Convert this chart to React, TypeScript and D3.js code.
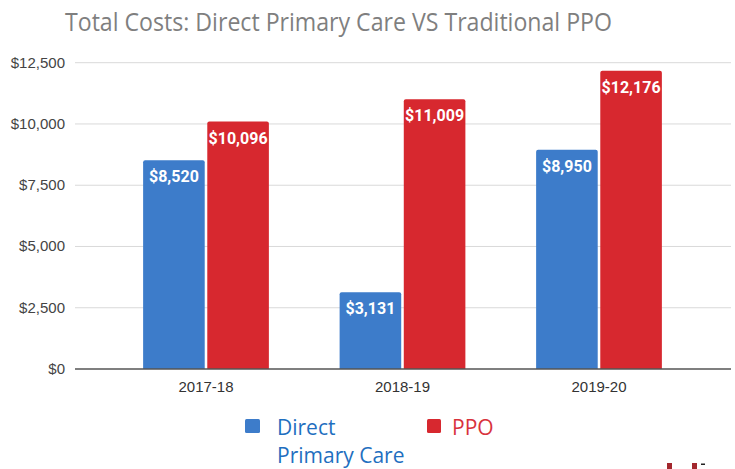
import React from "react";
import * as d3 from "d3";

const categories = ["2017-18", "2018-19", "2019-20"];
const seriesNames = ["Direct Primary Care", "PPO"];
const dpcValues = [8520, 3131, 8950];
const ppoValues = [10096, 11009, 12176];
const yTicks = [0, 2500, 5000, 7500, 10000, 12500];
const titleText = "Total Costs: Direct Primary Care VS Traditional PPO";

const W = 735;
const H = 469;
const BLUE = "#3D7CCA";
const RED = "#D7282F";

function topRoundedRect(x: number, y: number, w: number, h: number, r: number) {
  const rr = Math.min(r, h, w / 2);
  return `M${x},${y + h}V${y + rr}Q${x},${y} ${x + rr},${y}H${x + w - rr}Q${x + w},${y} ${x + w},${y + rr}V${y + h}Z`;
}

export default function App() {
  const y = d3.scaleLinear().domain([0, 12500]).range([369, 62.7]);
  const x0 = d3
    .scaleBand<string>()
    .domain(categories)
    .range([107.75, 697.25])
    .paddingInner(0.36)
    .paddingOuter(0.18);
  const x1 = d3
    .scaleBand<string>()
    .domain(seriesNames)
    .range([0, x0.bandwidth()])
    .paddingInner(0.04);
  const fmt = (v: number) => "$" + d3.format(",")(v);
  const series = [
    { name: seriesNames[0], values: dpcValues, color: BLUE },
    { name: seriesNames[1], values: ppoValues, color: RED },
  ];

  return (
    <svg
      width={W}
      height={H}
      style={{ position: "absolute", left: 0, top: 0, display: "block", background: "#fff" }}
    >
      <rect x={0} y={0} width={W} height={H} fill="#fff" />
      <text
        x={65}
        y={31}
        fontFamily="'Open Sans', sans-serif"
        fontSize={25}
        fill="#7F7F7F"
        textLength={547}
        lengthAdjust="spacingAndGlyphs"
      >
        {titleText}
      </text>

      {yTicks.map((t) => (
        <g key={t}>
          {t !== 0 && (
            <line x1={75} x2={731} y1={y(t)} y2={y(t)} stroke="#D9D9D9" strokeWidth={1} />
          )}
          <text
            x={65}
            y={y(t) + 5}
            textAnchor="end"
            fontFamily="'Liberation Sans', Arial, sans-serif"
            fontSize={15}
            fill="#444"
          >
            {fmt(t)}
          </text>
        </g>
      ))}

      {categories.map((c, i) => (
        <g key={c}>
          {series.map((s) => {
            const v = s.values[i];
            const bx = (x0(c) ?? 0) + (x1(s.name) ?? 0);
            const by = y(v);
            const bw = x1.bandwidth();
            return (
              <g key={s.name}>
                <path d={topRoundedRect(bx, by, bw, y(0) - by, 2)} fill={s.color} />
                <text
                  x={bx + bw / 2}
                  y={by + 22}
                  textAnchor="middle"
                  fontFamily="Roboto, sans-serif"
                  fontWeight="bold"
                  fontSize={16}
                  fill="#fff"
                >
                  {fmt(v)}
                </text>
              </g>
            );
          })}
          <text
            x={(x0(c) ?? 0) + x0.bandwidth() / 2}
            y={392}
            textAnchor="middle"
            fontFamily="'Liberation Sans', Arial, sans-serif"
            fontSize={15}
            fill="#333"
          >
            {c}
          </text>
        </g>
      ))}

      <line x1={75} x2={731} y1={y(0)} y2={y(0)} stroke="#555" strokeWidth={1.5} />

      {/* legend */}
      <rect x={245} y={419} width={15} height={14} rx={1.5} fill={BLUE} />
      <text fontFamily="'Open Sans', sans-serif" fontSize={21} fill="#1F6FC0">
        <tspan x={277} y={435}>Direct</tspan>
        <tspan x={277} y={463}>Primary Care</tspan>
      </text>
      <rect x={427} y={419} width={14} height={14} rx={1.5} fill={RED} />
      <text x={452} y={435} fontFamily="'Open Sans', sans-serif" fontSize={21} fill="#D8323C">
        PPO
      </text>

      {/* cropped logo fragments */}
      <rect x={667} y={463} width={5} height={6} fill="#A3272D" />
      <rect x={692} y={463} width={5} height={6} fill="#A3272D" />
      <rect x={701} y={463.5} width={4} height={1.5} fill="#222" />
    </svg>
  );
}
